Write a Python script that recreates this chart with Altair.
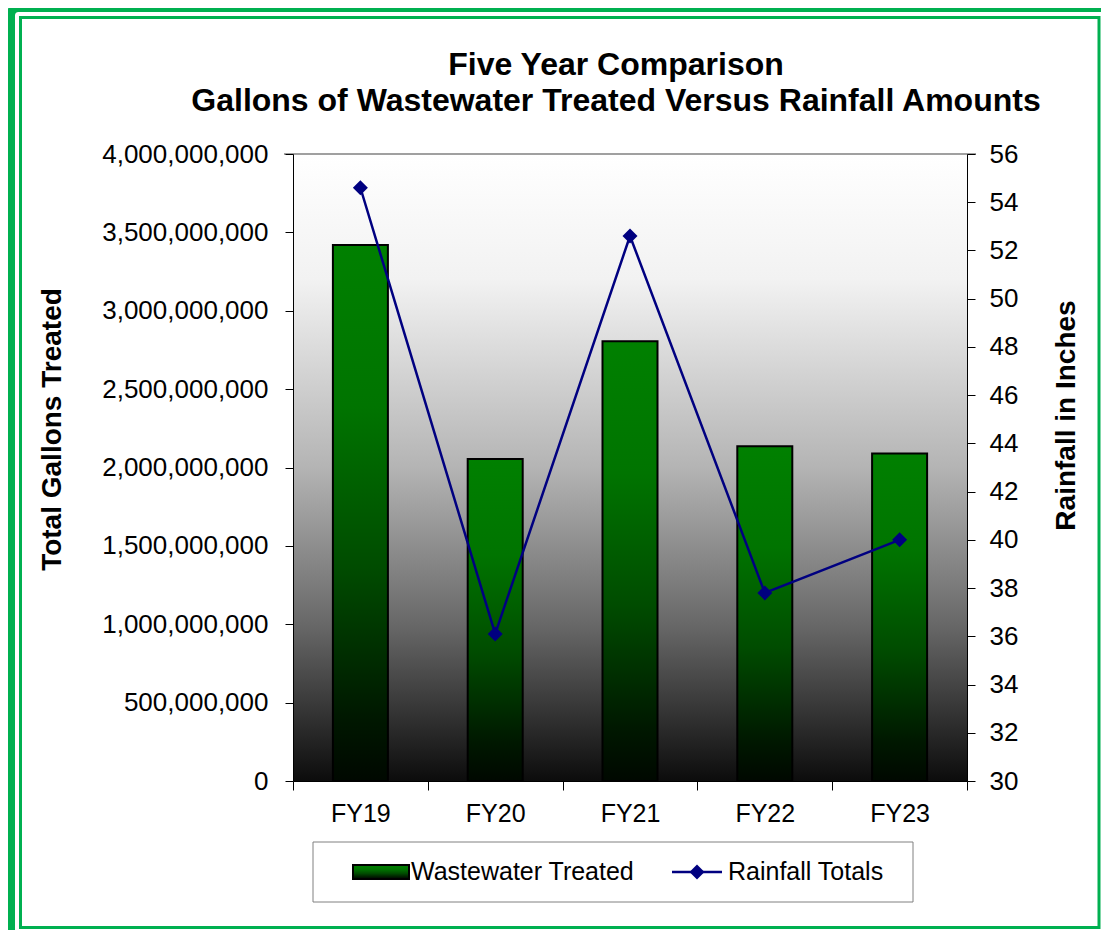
import altair as alt
import pandas as pd

# ---- data ----
years = ["FY19", "FY20", "FY21", "FY22", "FY23"]
gallons = [3420000000, 2055000000, 2805000000, 2135000000, 2090000000]
rainfall = [54.6, 36.1, 52.6, 37.8, 40.0]
left_ticks = [0, 500000000, 1000000000, 1500000000, 2000000000,
              2500000000, 3000000000, 3500000000, 4000000000]
right_ticks = [30, 32, 34, 36, 38, 40, 42, 44, 46, 48, 50, 52, 54, 56]
legend_labels = ["Wastewater Treated", "Rainfall Totals"]
title_lines = ["Five Year Comparison",
               "Gallons of Wastewater Treated Versus Rainfall Amounts"]

df = pd.DataFrame({"year": years, "gallons": gallons, "rain": rainfall})
one = pd.DataFrame({"a": [0]})

W, H = 674, 627
FONT = "Liberation Sans"
GREEN = "#00b050"
NAVY = "#000080"

bg_grad = alt.Gradient(
    gradient="linear", x1=0, x2=0, y1=0, y2=1,
    stops=[alt.GradientStop(color="#ffffff", offset=0),
           alt.GradientStop(color="#f2f2f2", offset=0.2),
           alt.GradientStop(color="#b4b4b4", offset=0.5),
           alt.GradientStop(color="#686868", offset=0.75),
           alt.GradientStop(color="#0c0c0c", offset=1)])

bar_grad = alt.Gradient(
    gradient="linear", x1=0, x2=0, y1=0, y2=1,
    stops=[alt.GradientStop(color="#008000", offset=0),
           alt.GradientStop(color="#007400", offset=0.3),
           alt.GradientStop(color="#004c00", offset=0.6),
           alt.GradientStop(color="#001800", offset=0.88),
           alt.GradientStop(color="#000800", offset=1)])

X = alt.X("year:N", sort=years,
          scale=alt.Scale(paddingInner=0, paddingOuter=0),
          axis=alt.Axis(title=None, labelAngle=0, tickBand="extent", tickSize=9,
                        labelPadding=11, labelFontSize=25, labelFont=FONT,
                        labelColor="black", domainColor="black", tickColor="black",
                        zindex=1))

background = alt.Chart(one).mark_rect(fill=bg_grad).encode(
    x=alt.value(0), x2=alt.value(W), y=alt.value(0), y2=alt.value(H))

bars = alt.Chart(df).mark_bar(size=55, fill=bar_grad, stroke="black", strokeWidth=2).encode(
    x=X,
    y=alt.Y("gallons:Q",
            scale=alt.Scale(domain=[0, 4000000000], nice=False),
            axis=alt.Axis(orient="left", values=left_ticks, format=",d",
                          title="Total Gallons Treated", titleX=-241, titleY=275,
                          titleAngle=270, titleAlign="center", titleBaseline="middle",
                          titleFontSize=28, titleFont=FONT, titleFontWeight="bold",
                          titleColor="black",
                          tickSize=8, labelPadding=17, labelFontSize=26, labelFont=FONT,
                          labelColor="black", domainColor="black", tickColor="black",
                          grid=False, zindex=1)))

rain_scale = alt.Scale(domain=[30, 56], nice=False, zero=False)

line = alt.Chart(df).mark_line(color=NAVY, strokeWidth=2.5).encode(
    x=X,
    y=alt.Y("rain:Q", scale=rain_scale,
            axis=alt.Axis(orient="right", values=right_ticks,
                          title="Rainfall in Inches", titleX=99, titleY=261,
                          titleAngle=270, titleAlign="center", titleBaseline="middle",
                          titleFontSize=28, titleFont=FONT, titleFontWeight="bold",
                          titleColor="black",
                          tickSize=8, labelPadding=14, labelFontSize=26, labelFont=FONT,
                          labelColor="black", domainColor="black", tickColor="black",
                          grid=False, zindex=1)))

points = alt.Chart(df).mark_point(shape="diamond", filled=True, size=225, color=NAVY,
                                  opacity=1).encode(
    x=X, y=alt.Y("rain:Q", scale=rain_scale, axis=None))

top_rule = alt.Chart(one).mark_rule(color="#a0a0a0", strokeWidth=2).encode(
    x=alt.value(-9), x2=alt.value(W + 9), y=alt.value(0))

# ---- title (two lines) ----
title1 = alt.Chart(pd.DataFrame({"t": [title_lines[0]]})).mark_text(
    align="center", baseline="alphabetic", fontSize=32, font=FONT, fontWeight="bold",
    color="black").encode(x=alt.value(323), y=alt.value(-79), text="t:N")
title2 = alt.Chart(pd.DataFrame({"t": [title_lines[1]]})).mark_text(
    align="center", baseline="alphabetic", fontSize=32, font=FONT, fontWeight="bold",
    color="black").encode(x=alt.value(323), y=alt.value(-43), text="t:N")

# ---- legend (drawn) ----
leg_box = alt.Chart(one).mark_rect(fill="white", stroke="#808080", strokeWidth=1).encode(
    x=alt.value(20), x2=alt.value(620), y=alt.value(688), y2=alt.value(748))
leg_bar = alt.Chart(one).mark_rect(fill=bar_grad, stroke="black", strokeWidth=2).encode(
    x=alt.value(60), x2=alt.value(116), y=alt.value(711), y2=alt.value(725))
leg_t1 = alt.Chart(pd.DataFrame({"t": [legend_labels[0]]})).mark_text(
    align="left", baseline="middle", fontSize=25, font=FONT, color="black").encode(
    x=alt.value(118), y=alt.value(718), text="t:N")
leg_line = alt.Chart(one).mark_rule(color=NAVY, strokeWidth=2.5).encode(
    x=alt.value(379), x2=alt.value(429), y=alt.value(718))
leg_pt = alt.Chart(one).mark_point(shape="diamond", filled=True, size=225, color=NAVY,
                                   opacity=1).encode(
    x=alt.value(404), y=alt.value(718))
leg_t2 = alt.Chart(pd.DataFrame({"t": [legend_labels[1]]})).mark_text(
    align="left", baseline="middle", fontSize=25, font=FONT, color="black").encode(
    x=alt.value(435), y=alt.value(718), text="t:N")

# ---- green frame ----
frame_outer = alt.Chart(one).mark_rect(filled=False, color=GREEN, strokeWidth=9,
                                       cornerRadius=8).encode(
    x=alt.value(-282.5), x2=alt.value(822), y=alt.value(-146.5), y2=alt.value(791))
frame_inner = alt.Chart(one).mark_rect(filled=False, color=GREEN, strokeWidth=3).encode(
    x=alt.value(-272.5), x2=alt.value(806), y=alt.value(-136.5), y2=alt.value(773.5))

chart = alt.layer(
    background, bars, line, points, top_rule, title1, title2,
    leg_box, leg_bar, leg_t1, leg_line, leg_pt, leg_t2,
    frame_outer, frame_inner
).resolve_scale(y="independent").properties(
    width=W, height=H,
    autosize=alt.AutoSizeParams(type="none"),
    padding={"left": 285, "top": 146, "right": 134, "bottom": 149},
    background="white",
).configure_view(stroke=None)

chart.save("out.html", embed_options={"renderer": "svg", "actions": False})
